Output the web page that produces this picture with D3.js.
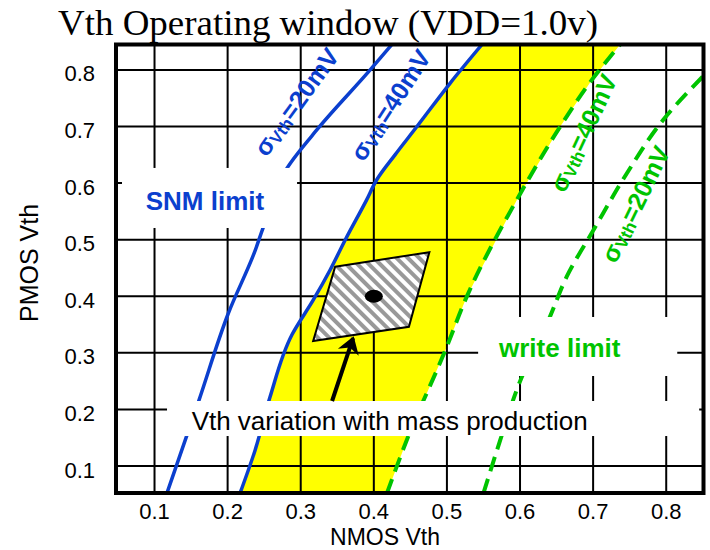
<!DOCTYPE html>
<html>
<head>
<meta charset="utf-8">
<script src="https://cdn.jsdelivr.net/npm/d3@7"></script>
<style>
    body { margin: 0; background: #fff; }
    svg { display: block; font-family: "Liberation Sans", Arial, sans-serif; }
</style>
</head>
<body>
<svg id="Chart"></svg>
<script>
    let xTicks = [0.1, 0.2, 0.3, 0.4, 0.5, 0.6, 0.7, 0.8];
    let yTicks = [0.1, 0.2, 0.3, 0.4, 0.5, 0.6, 0.7, 0.8];

    // every curve is a list of [NMOS Vth, PMOS Vth]
    let snmSigma20 = [[0.117, 0.052], [0.161, 0.217], [0.201, 0.370],
        [0.238, 0.482], [0.2485, 0.521], [0.281, 0.626], [0.324, 0.697], [0.395, 0.800], [0.426, 0.847]];
    let snmSigma40 = [[0.217, 0.052], [0.2376, 0.128], [0.258, 0.222], [0.288, 0.332],
        [0.317, 0.393], [0.340, 0.446], [0.361, 0.500], [0.390, 0.570], [0.404, 0.606],
        [0.429, 0.650], [0.459, 0.700], [0.504, 0.776], [0.548, 0.845]];
    let writeSigma40 = [[0.418, 0.052], [0.447, 0.152], [0.498, 0.305], [0.527, 0.399],
        [0.598, 0.576], [0.655, 0.700], [0.698, 0.782], [0.737, 0.845]];
    let writeSigma20 = [[0.550, 0.052], [0.573, 0.146], [0.598, 0.243], [0.641, 0.364],
        [0.664, 0.435], [0.7005, 0.517], [0.746, 0.617], [0.796, 0.712], [0.852, 0.791]];
    let variationArea = [[0.347, 0.452], [0.476, 0.478], [0.448, 0.346], [0.317, 0.321]];
    let nominalPoint = [0.4, 0.4];

    let blue = "#0b3fce";
    let green = "#00c400";

    function getConfig() {
        let width = 710;
        let height = 550;
        let container = d3.select("#Chart")
            .attr("width", width)
            .attr("height", height)
        return {width, height, container}
    }

    function getScales() {
        let xScale = d3.scaleLinear().domain([0.0473, 0.851]).range([116, 703.5])
        let yScale = d3.scaleLinear().domain([0.0523, 0.845]).range([493, 44.5])
        return {xScale, yScale}
    }

    function drawDefs(container, scales) {
        let {xScale, yScale} = scales
        let defs = container.append("defs")
        defs.append("clipPath")
            .attr("id", "plotClip")
            .append("rect")
            .attr("x", xScale.range()[0])
            .attr("y", yScale.range()[1])
            .attr("width", xScale.range()[1] - xScale.range()[0])
            .attr("height", yScale.range()[0] - yScale.range()[1])

        let hatch = defs.append("pattern")
            .attr("id", "hatch")
            .attr("patternUnits", "userSpaceOnUse")
            .attr("width", 8)
            .attr("height", 8)
            .attr("patternTransform", "rotate(-45)")
        hatch.append("rect").attr("width", 8).attr("height", 8).attr("fill", "#fff")
        hatch.append("rect").attr("width", 4).attr("height", 8).attr("fill", "#999")

        defs.append("marker")
            .attr("id", "arrowHead")
            .attr("markerUnits", "userSpaceOnUse")
            .attr("viewBox", "-16 -12 18 24")
            .attr("markerWidth", 18)
            .attr("markerHeight", 24)
            .attr("refX", 0)
            .attr("refY", 0)
            .attr("orient", "auto")
            .append("path")
            .attr("d", "M2,0 L-15,-11 L-10,0 L-15,11 Z")
            .attr("fill", "#000")
    }

    function drawWindow(body, scales) {
        let {xScale, yScale} = scales
        let [yMin, yMax] = yScale.domain()
        // yellow band between the SNM sigma=40mV and write sigma=40mV limits
        let area = snmSigma40.concat([[writeSigma40[writeSigma40.length - 1][0], yMax]])
            .concat(writeSigma40.slice().reverse())
            .concat([[snmSigma40[0][0], yMin]])
        body.append("path")
            .attr("d", d3.line().x(d => xScale(d[0])).y(d => yScale(d[1]))(area))
            .attr("fill", "#ffff00")
    }

    function drawGrid(body, scales) {
        let {xScale, yScale} = scales
        body.selectAll(".vgrid")
            .data(xTicks)
            .enter()
            .append("line")
            .attr("x1", d => xScale(d))
            .attr("x2", d => xScale(d))
            .attr("y1", yScale.range()[0])
            .attr("y2", yScale.range()[1])
            .attr("stroke", "#000")
            .attr("stroke-width", 2)
        body.selectAll(".hgrid")
            .data(yTicks)
            .enter()
            .append("line")
            .attr("y1", d => yScale(d))
            .attr("y2", d => yScale(d))
            .attr("x1", xScale.range()[0])
            .attr("x2", xScale.range()[1])
            .attr("stroke", "#000")
            .attr("stroke-width", 2)
    }

    function drawCurves(body, scales) {
        let {xScale, yScale} = scales
        let line = d3.line()
            .x(d => xScale(d[0]))
            .y(d => yScale(d[1]))
            .curve(d3.curveMonotoneY)
        let curves = [
            {points: snmSigma20, color: blue, dash: null},
            {points: snmSigma40, color: blue, dash: null},
            {points: writeSigma40, color: green, dash: "15,8"},
            {points: writeSigma20, color: green, dash: "15,8"}
        ]
        body.selectAll(".curve")
            .data(curves)
            .enter()
            .append("path")
            .attr("d", d => line(d.points))
            .attr("fill", "none")
            .attr("stroke", d => d.color)
            .attr("stroke-width", d => d.dash ? 4 : 3.5)
            .attr("stroke-dasharray", d => d.dash)
    }

    function drawVariation(body, scales) {
        let {xScale, yScale} = scales
        body.append("polygon")
            .attr("points", variationArea.map(d => [xScale(d[0]), yScale(d[1])].join(",")).join(" "))
            .attr("fill", "url(#hatch)")
            .attr("stroke", "#000")
            .attr("stroke-width", 2)
        body.append("ellipse")
            .attr("cx", xScale(nominalPoint[0]))
            .attr("cy", yScale(nominalPoint[1]))
            .attr("rx", 9)
            .attr("ry", 6.5)
            .attr("fill", "#000")
    }

    function drawLabelBoxes(body, scales) {
        let {xScale, yScale} = scales
        // white boxes behind the labels hide grid and curves, as in the slide
        let boxes = [
            [0.0555, 0.2950, 0.6268, 0.5207],
            [0.5427, 0.8151, 0.3634, 0.2591],
            [0.1171, 0.8451, 0.2149, 0.1530]
        ]
        body.selectAll(".box")
            .data(boxes)
            .enter()
            .append("rect")
            .attr("x", d => xScale(d[0]))
            .attr("width", d => xScale(d[1]) - xScale(d[0]))
            .attr("y", d => yScale(d[2]))
            .attr("height", d => yScale(d[3]) - yScale(d[2]))
            .attr("fill", "#fff")
    }

    function drawSigmaLabel(container, scales, pos, angle, value, color) {
        let {xScale, yScale} = scales
        let x = xScale(pos[0])
        let y = yScale(pos[1])
        let text = container.append("text")
            .attr("transform", `translate(${x},${y}) rotate(${angle})`)
            .attr("text-anchor", "middle")
            .attr("dominant-baseline", "central")
            .attr("font-size", 25)
            .attr("font-weight", "bold")
            .attr("fill", color)
        text.append("tspan").text("σ")
        text.append("tspan").attr("dy", 5).attr("font-size", 17).text("Vth")
        text.append("tspan").attr("dy", -5).text("=" + value + "mV")
    }

    function drawLabels(container, scales) {
        let {xScale, yScale} = scales
        container.append("text")
            .attr("x", xScale(0.169))
            .attr("y", yScale(0.5525))
            .attr("text-anchor", "middle")
            .attr("font-size", 26)
            .attr("font-weight", "bold")
            .attr("fill", blue)
            .text("SNM limit")
        container.append("text")
            .attr("x", xScale(0.6543))
            .attr("y", yScale(0.2927))
            .attr("text-anchor", "middle")
            .attr("font-size", 26)
            .attr("font-weight", "bold")
            .attr("fill", green)
            .text("write limit")
        container.append("text")
            .attr("x", xScale(0.4216))
            .attr("y", yScale(0.1636))
            .attr("text-anchor", "middle")
            .attr("font-size", 26)
            .attr("fill", "#000")
            .text("Vth variation with mass production")

        drawSigmaLabel(container, scales, [0.2937, 0.7435], -54, 20, blue)
        drawSigmaLabel(container, scales, [0.4223, 0.7381], -57, 40, blue)
        drawSigmaLabel(container, scales, [0.6864, 0.6887], -65, 40, green)
        drawSigmaLabel(container, scales, [0.7576, 0.5631], -64, 20, green)

        container.append("line")
            .attr("x1", xScale(0.3429))
            .attr("y1", yScale(0.2149))
            .attr("x2", xScale(0.3716))
            .attr("y2", yScale(0.3262))
            .attr("stroke", "#000")
            .attr("stroke-width", 4)
            .attr("marker-end", "url(#arrowHead)")
    }

    function drawAxes(container, scales) {
        let {xScale, yScale} = scales
        let [x0, x1] = xScale.range()
        let [y0, y1] = yScale.range()
        container.append("rect")
            .attr("x", x0)
            .attr("y", y1)
            .attr("width", x1 - x0)
            .attr("height", y0 - y1)
            .attr("fill", "none")
            .attr("stroke", "#000")
            .attr("stroke-width", 4)

        container.selectAll(".xlabel")
            .data(xTicks)
            .enter()
            .append("text")
            .attr("x", d => xScale(d))
            .attr("y", 518.5)
            .attr("text-anchor", "middle")
            .attr("font-size", 22)
            .text(d => d3.format(".1f")(d))
        container.selectAll(".ylabel")
            .data(yTicks)
            .enter()
            .append("text")
            .attr("x", 95)
            .attr("y", d => yScale(d) + 11.5)
            .attr("text-anchor", "end")
            .attr("font-size", 22)
            .text(d => d3.format(".1f")(d))

        container.append("text")
            .attr("x", 385)
            .attr("y", 544.5)
            .attr("text-anchor", "middle")
            .attr("font-size", 23)
            .text("NMOS Vth")
        container.append("text")
            .attr("transform", "translate(38,263) rotate(-90)")
            .attr("text-anchor", "middle")
            .attr("font-size", 25)
            .text("PMOS Vth")
        container.append("text")
            .attr("x", 58)
            .attr("y", 35)
            .attr("font-family", "'Liberation Serif', 'Times New Roman', serif")
            .attr("font-size", 35)
            .attr("textLength", 540)
            .attr("lengthAdjust", "spacingAndGlyphs")
            .text("Vth Operating window (VDD=1.0v)")
    }

    function showChart() {
        let config = getConfig()
        let scales = getScales()
        let container = config.container
        container.append("rect").attr("width", config.width).attr("height", config.height).attr("fill", "#fff")
        drawDefs(container, scales)
        let body = container.append("g").attr("clip-path", "url(#plotClip)")
        drawWindow(body, scales)
        drawGrid(body, scales)
        drawCurves(body, scales)
        drawVariation(body, scales)
        drawLabelBoxes(body, scales)
        drawLabels(container, scales)
        drawAxes(container, scales)
    }

    showChart();
</script>
</body>
</html>
